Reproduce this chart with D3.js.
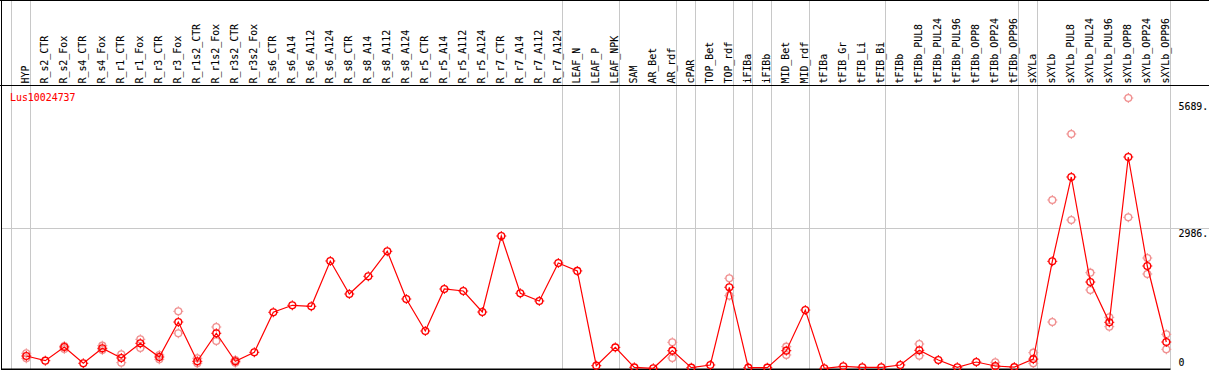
<!DOCTYPE html>
<html>
<head>
<meta charset="utf-8">
<script src="https://cdn.jsdelivr.net/npm/d3@7"></script>
<style>
  body { margin: 0; background: #fff; }
  svg { display: block; }
  text { font-family: "DejaVu Sans Mono", monospace; font-size: 11px; }
  .lbl { stroke: #000; stroke-width: 0.1; }
</style>
</head>
<body>
<svg class="chart"></svg>
<script>
// sample names along the top
var samples = ["HYP", "R_s2_CTR", "R_s2_Fox", "R_s4_CTR", "R_s4_Fox", "R_r1_CTR", "R_r1_Fox",
  "R_r3_CTR", "R_r3_Fox", "R_r1s2_CTR", "R_r1s2_Fox", "R_r3s2_CTR", "R_r3s2_Fox",
  "R_s6_CTR", "R_s6_A14", "R_s6_A112", "R_s6_A124", "R_s8_CTR", "R_s8_A14", "R_s8_A112", "R_s8_A124",
  "R_r5_CTR", "R_r5_A14", "R_r5_A112", "R_r5_A124", "R_r7_CTR", "R_r7_A14", "R_r7_A112", "R_r7_A124",
  "LEAF_N", "LEAF_P", "LEAF_NPK", "SAM", "AR_Bet", "AR_rdf", "cPAR", "TOP_Bet", "TOP_rdf",
  "iFIBa", "iFIBb", "MID_Bet", "MID_rdf", "tFIBa", "tFIB_Gr", "tFIB_Li", "tFIB_Bi",
  "tFIBb", "tFIBb_PUL8", "tFIBb_PUL24", "tFIBb_PUL96", "tFIBb_OPP8", "tFIBb_OPP24", "tFIBb_OPP96",
  "sXYLa", "sXYLb", "sXYLb_PUL8", "sXYLb_PUL24", "sXYLb_PUL96", "sXYLb_OPP8", "sXYLb_OPP24", "sXYLb_OPP96"];

// mean expression per sample
var means = [266, 166, 458, 111, 430, 224, 537, 245, 990, 153, 750, 153, 345,
  1197, 1346, 1325, 2290, 1587, 1964, 2496, 1480, 799, 1693, 1651, 1203, 2822, 1602, 1438, 2247,
  2078, 60, 450, 25, 4, 380, 17, 75, 1730, 17, 17, 380, 1245, 4, 47, 26, 26,
  75, 388, 181, 26, 138, 53, 30, 200, 2283, 4079, 1842, 984, 4505, 2183, 564];

// replicate values (null = not shown)
var repHigh = [324, null, 479, null, 486, 302, 622, 288, 1218, 217, 884, 181, null,
  null, null, null, null, null, null, null, null, null, null, null, null, null, null, null, null,
  null, null, null, null, null, 558, null, null, 1921, null, null, 464, null, null, null, null, null,
  null, 522, null, null, null, 132, null, 337, 3589, 4995, 2040, 1090, 5761, 2353, 728];
var repLow = [217, null, 415, null, 394, 124, 437, 196, 750, 111, 586, 124, null,
  null, null, null, null, null, null, null, null, null, null, null, null, null, null, null, null,
  null, null, null, null, null, 224, null, null, 1551, null, null, 288, null, null, null, null, null,
  null, 273, null, null, null, 26, null, 111, 990, 3163, 1672, 890, 3220, 2013, 409];

// group separators fall after these sample indexes (-1 = before the first one)
var groupEnds = [-1, 0, 28, 31, 34, 35, 37, 38, 39, 41, 45, 52, 53, 60];

var yLabels = [0, 2986, 5689];
var gridValues = [2986];
var geneName = "Lus10024737";

var width = 1209, height = 370;

var svg = d3.select(".chart")
  .attr("width", width)
  .attr("height", height);

var x = d3.scalePoint()
  .domain(samples)
  .range([26.3, 1166.3]);
var step = x.step();

var y = d3.scaleLinear()
  .domain([0, 5689])
  .range([368.5, 101.4]);

function sepX(i) {
  return Math.round(26.3 + step * i + 4) + 0.5;
}

// horizontal grid
svg.append("g").selectAll("line")
  .data(gridValues)
  .enter().append("line")
  .attr("x1", 2).attr("x2", width)
  .attr("y1", function(d) { return Math.round(y(d)) + 0.5; })
  .attr("y2", function(d) { return Math.round(y(d)) + 0.5; })
  .attr("stroke", "#c8c8c8");

// vertical group separators
svg.append("g").selectAll("line")
  .data(groupEnds)
  .enter().append("line")
  .attr("x1", sepX).attr("x2", sepX)
  .attr("y1", 0).attr("y2", 369)
  .attr("stroke", "#c8c8c8");

// frame
var frame = svg.append("g").attr("stroke", "#000");
frame.append("line").attr("x1", 0).attr("x2", width).attr("y1", 0.5).attr("y2", 0.5);
frame.append("line").attr("x1", 0).attr("x2", width).attr("y1", 85.5).attr("y2", 85.5);
frame.append("line").attr("x1", 1.5).attr("x2", 1.5).attr("y1", 0).attr("y2", height);
frame.append("line").attr("x1", 1).attr("x2", sepX(60))
  .attr("y1", y(0) + 0.8).attr("y2", y(0) + 0.8).attr("stroke-width", 1.5);

// sample labels, rotated
svg.append("g").selectAll("text")
  .data(samples)
  .enter().append("text")
  .attr("class", "lbl")
  .attr("transform", function(d) { return "translate(" + (Math.round(x(d) + 3) - 0.5) + ",83.5) rotate(-90) scale(0.9,1)"; })
  .attr("fill", "#000")
  .text(function(d) { return d; });

// value labels on the right
svg.append("g").selectAll("text")
  .data(yLabels)
  .enter().append("text")
  .attr("class", "lbl")
  .attr("transform", function(d) {
    var yy = d === 0 ? y(0) - 2.5 : y(d) + 8.5;
    return "translate(1178.5," + yy + ") scale(0.9,1)";
  })
  .text(function(d) { return d === 0 ? "0" : d + "."; });

// gene name
svg.append("text")
  .attr("transform", "translate(10,101) scale(0.9,1)")
  .attr("fill", "#ff0000")
  .attr("stroke", "#ff0000")
  .attr("stroke-width", 0.1)
  .text(geneName);

var tickPath = "M0,-5V-3.5M0,3.5V5M-5,0H-3.5M3.5,0H5";

function drawMarkers(g, values, color) {
  var pts = samples.map(function(s, i) { return { s: s, v: values[i] }; })
    .filter(function(d) { return d.v !== null; });
  var m = g.selectAll("g")
    .data(pts)
    .enter().append("g")
    .attr("transform", function(d) { return "translate(" + x(d.s) + "," + y(d.v) + ")"; })
    .attr("stroke", color)
    .attr("fill", "none");
  m.append("circle").attr("r", 3.4).attr("stroke-width", 1.4);
  m.append("path").attr("d", tickPath).attr("stroke-width", 1);
}

drawMarkers(svg.append("g"), repHigh, "#f09090");
drawMarkers(svg.append("g"), repLow, "#f09090");

var line = d3.line()
  .x(function(d, i) { return x(samples[i]); })
  .y(function(d) { return y(d); });

svg.append("path")
  .datum(means)
  .attr("d", line)
  .attr("fill", "none")
  .attr("stroke", "#ff0000")
  .attr("stroke-width", 1.2);

drawMarkers(svg.append("g"), means, "#ff0000");
</script>
</body>
</html>
